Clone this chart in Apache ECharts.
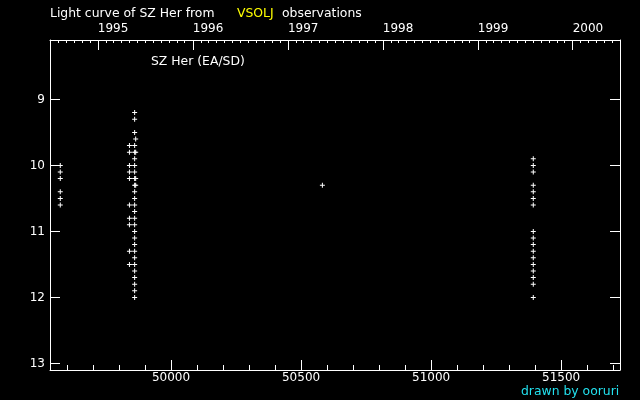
<!DOCTYPE html>
<html>
<head>
<meta charset="utf-8">
<script src="https://cdn.jsdelivr.net/npm/echarts@6/dist/echarts.min.js"></script>
<style>html,body{margin:0;padding:0;background:#000;}#c{width:640px;height:400px;}</style>
</head>
<body>
<div id="c"></div>
<script>
// Data: JD-2400000 and visual magnitude
var jdA = 49574;
var magA = [10.0, 10.1, 10.2, 10.4, 10.5, 10.6];
var jdB1 = 49840;
var magB1 = [9.7, 9.8, 10.0, 10.1, 10.2, 10.6, 10.8, 10.9, 11.3, 11.5];
var jdB2 = 49860;
var magB2 = [9.2, 9.3, 9.5, 9.7, 9.8, 9.9, 10.0, 10.1, 10.2, 10.3, 10.4, 10.5, 10.6, 10.7, 10.8, 10.9, 11.0, 11.1, 11.2, 11.3, 11.4, 11.5, 11.6, 11.7, 11.8, 11.9, 12.0];
var jdB3 = 49864;
var magB3 = [9.6, 9.8, 10.2, 10.3];
var jdC = 50582;
var magC = [10.3];
var jdD = 51393;
var magD = [9.9, 10.0, 10.1, 10.3, 10.4, 10.5, 10.6, 11.0, 11.1, 11.2, 11.3, 11.4, 11.5, 11.6, 11.7, 11.8, 12.0];

var jdTickLabels = [50000, 50500, 51000, 51500];
var jdMinorTicks = [49600, 49700, 49800, 49900, 50100, 50200, 50300, 50400, 50600, 50700, 50800, 50900, 51100, 51200, 51300, 51400, 51600, 51700];
var yearLabels = [1995, 1996, 1997, 1998, 1999, 2000];
var magTicks = [9, 10, 11, 12, 13];
var jdMin = 49534.5, jdMax = 51726.5;
var magMin = 8.1, magMax = 13.1;

function dateToJD(y, m) { return Date.UTC(y, m, 1) / 86400000 + 40587.5; }
var yearJD = yearLabels.map(function (y) { return dateToJD(y, 0); });
var monthJD = [];
for (var y = 1994; y <= 2000; y++) {
  for (var m = 0; m < 12; m++) {
    var v = dateToJD(y, m);
    if (v > jdMin && v < jdMax && m !== 0) monthJD.push(v);
  }
}

function pts(jd, mags) { return mags.map(function (mg) { return [jd, mg]; }); }
var allData = [].concat(pts(jdA, magA), pts(jdB1, magB1), pts(jdB2, magB2), pts(jdB3, magB3), pts(jdC, magC), pts(jdD, magD));

var FONT = 'DejaVu Sans';
var white = '#ffffff';
var lineStyle = { color: white, width: 1 };
function ts(color) { return { color: color, fontFamily: FONT, fontSize: 12.4, fontWeight: 'normal' }; }

var chart = echarts.init(document.getElementById('c'), null, { renderer: 'canvas' });
chart.setOption({
  backgroundColor: '#000000',
  animation: false,
  title: [
    { text: 'Light curve of SZ Her from', left: 50, top: 8, padding: 0, textStyle: ts(white) },
    { text: 'VSOLJ', left: 237, top: 8, padding: 0, textStyle: ts('#ffff00') },
    { text: 'observations', left: 282, top: 8, padding: 0, textStyle: ts(white) },
    { text: 'SZ Her (EA/SD)', left: 151, top: 56, padding: 0, textStyle: ts(white) },
    { text: 'drawn by ooruri', left: 521, top: 386, padding: 0, textStyle: ts('#22e0ee') }
  ],
  grid: { left: 50, top: 40, right: 20, bottom: 30, containLabel: false },
  xAxis: [
    { type: 'value', position: 'bottom', min: jdMin, max: jdMax, splitLine: { show: false },
      axisLine: { show: true, onZero: false, lineStyle: lineStyle },
      axisTick: { show: true, inside: true, length: 10, lineStyle: lineStyle, customValues: jdTickLabels },
      axisLabel: { show: true, color: white, fontFamily: FONT, fontSize: 12, margin: 2, customValues: jdTickLabels, formatter: function (v) { return String(v); } } },
    { type: 'value', position: 'bottom', min: jdMin, max: jdMax, splitLine: { show: false },
      axisLine: { show: false, onZero: false },
      axisTick: { show: true, inside: true, length: 5, lineStyle: lineStyle, customValues: jdMinorTicks },
      axisLabel: { show: false } },
    { type: 'value', position: 'top', min: jdMin, max: jdMax, splitLine: { show: false },
      axisLine: { show: true, onZero: false, lineStyle: lineStyle },
      axisTick: { show: true, inside: true, length: 10, lineStyle: lineStyle, customValues: yearJD },
      axisLabel: { show: true, color: white, fontFamily: FONT, fontSize: 12, margin: 5, align: 'left', customValues: yearJD,
        formatter: function (v) { var i = yearJD.indexOf(v); return i >= 0 ? String(yearLabels[i]) : ''; } } },
    { type: 'value', position: 'top', min: jdMin, max: jdMax, splitLine: { show: false },
      axisLine: { show: false, onZero: false },
      axisTick: { show: true, inside: true, length: 3, lineStyle: lineStyle, customValues: monthJD },
      axisLabel: { show: false } }
  ],
  yAxis: [
    { type: 'value', position: 'left', inverse: true, min: magMin, max: magMax, splitLine: { show: false },
      axisLine: { show: true, onZero: false, lineStyle: lineStyle },
      axisTick: { show: true, inside: true, length: 10, lineStyle: lineStyle, customValues: magTicks },
      axisLabel: { show: true, color: white, fontFamily: FONT, fontSize: 12, margin: 5, customValues: magTicks, formatter: function (v) { return String(v); } } },
    { type: 'value', position: 'right', inverse: true, min: magMin, max: magMax, splitLine: { show: false },
      axisLine: { show: true, onZero: false, lineStyle: lineStyle },
      axisTick: { show: true, inside: true, length: 10, lineStyle: lineStyle, customValues: magTicks },
      axisLabel: { show: false } }
  ],
  series: [{
    type: 'scatter',
    xAxisIndex: 0, yAxisIndex: 0,
    data: allData,
    symbol: 'path://M2,0H3V5H2ZM0,2H5V3H0Z',
    symbolSize: 5,
    itemStyle: { color: white, opacity: 1 },
    silent: true
  }]
});
</script>
</body>
</html>
